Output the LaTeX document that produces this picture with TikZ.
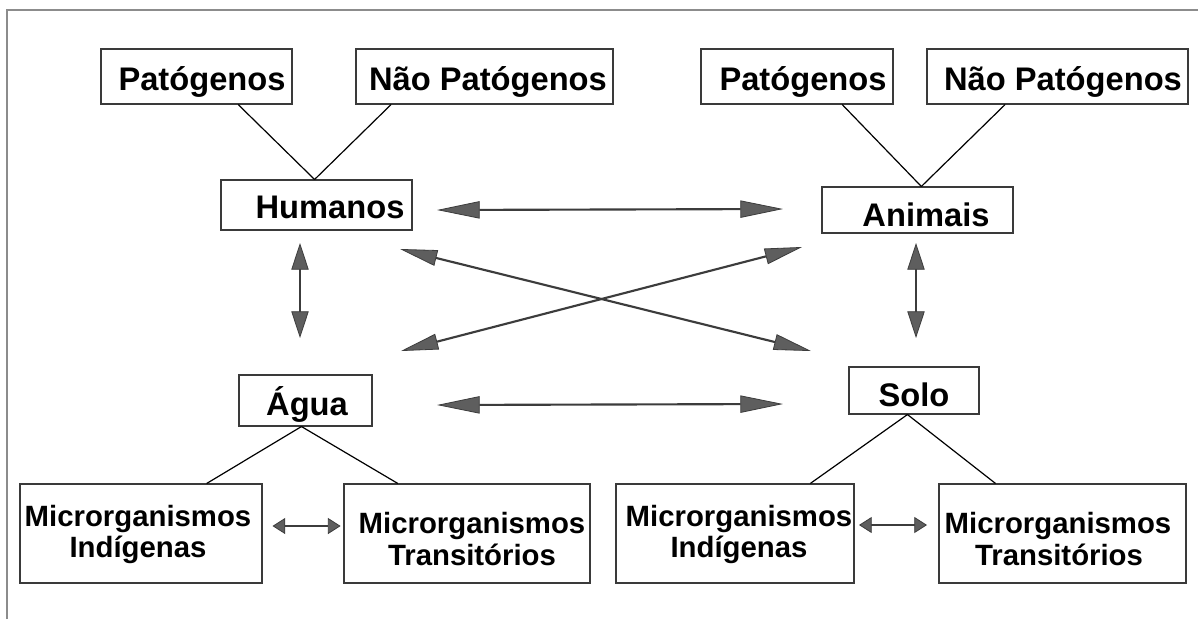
\documentclass[tikz,border=0pt]{standalone}
\usepackage{fontspec}
\setmainfont{Liberation Sans}
\usetikzlibrary{arrows.meta,fit,calc}
\definecolor{framegray}{HTML}{8C8C8C}
\definecolor{boxline}{HTML}{3A3A3A}
\definecolor{shaft}{HTML}{3C3C3C}
\definecolor{headfill}{HTML}{5E5E5E}
\begin{document}
\begin{tikzpicture}[x=0.75pt,y=-0.75pt,
  box/.style={draw=boxline,line width=0.8pt,inner sep=0pt},
  lbl/.style={anchor=base,inner sep=0pt,font=\fontsize{24.5}{28}\selectfont\bfseries},
  mlbl/.style={anchor=base,inner sep=0pt,font=\fontsize{22}{26}\selectfont\bfseries},
  link/.style={draw=black,line width=0.9pt},
  dbl/.style={draw=shaft,line width=1.6pt},
  bighead/.style={{Triangle[length=32pt,width=13pt,fill=headfill,line width=0.6pt]}-{Triangle[length=32pt,width=13pt,fill=headfill,line width=0.6pt]}},
  vhead/.style={{Triangle[length=20pt,width=13pt,fill=headfill,line width=0.6pt]}-{Triangle[length=20pt,width=13pt,fill=headfill,line width=0.6pt]}},
  dhead/.style={{Triangle[length=28pt,width=12pt,fill=headfill,line width=0.6pt]}-{Triangle[length=28pt,width=12pt,fill=headfill,line width=0.6pt]}},
  shead/.style={{Triangle[length=9.5pt,width=12pt,fill=headfill,line width=0.6pt]}-{Triangle[length=9.5pt,width=12pt,fill=headfill,line width=0.6pt]}},
]
\useasboundingbox (0,0) rectangle (1198,619);
\fill[white] (0,0) rectangle (1198,619);
% outer frame
\coordinate (fbl) at (7,619);
\coordinate (ftl) at (7,10);
\coordinate (ftr) at (1198,10);
\draw[framegray,line width=1.3pt] (fbl) -- (ftl) -- (ftr);

% boxes
\node[box,fit={(101,49) (292,104)}] (patL) {};
\node[box,fit={(356,49) (613,104)}] (naoL) {};
\node[box,fit={(221,180) (412,230)}] (hum) {};
\node[box,fit={(701,49) (893,104)}] (patR) {};
\node[box,fit={(927,49) (1188,104)}] (naoR) {};
\node[box,fit={(822,187) (1013,233)}] (ani) {};
\node[box,fit={(239,375) (372,426)}] (agua) {};
\node[box,fit={(849,367) (979,414)}] (solo) {};
\node[box,fit={(20,484) (262,583)}] (mL1) {};
\node[box,fit={(344,484) (590,583)}] (mL2) {};
\node[box,fit={(616,484) (854,583)}] (mR1) {};
\node[box,fit={(939,484) (1186,583)}] (mR2) {};

% labels
\node[lbl] (tpatL) at (202,90) {Patógenos};
\node[lbl] (tnaoL) at (488,90) {Não Patógenos};
\node[lbl] (thum) at (330,218) {Humanos};
\node[lbl] (tpatR) at (803,90) {Patógenos};
\node[lbl] (tnaoR) at (1063,90) {Não Patógenos};
\node[lbl] (tani) at (926,226) {Animais};
\node[lbl] (tagua) at (307,415) {Água};
\node[lbl] (tsolo) at (914,406) {Solo};
\node[mlbl] (tmL1a) at (138,526) {Microrganismos};
\node[mlbl] (tmL1b) at (138,557) {Indígenas};
\node[mlbl] (tmL2a) at (472,533) {Microrganismos};
\node[mlbl] (tmL2b) at (472,565) {Transitórios};
\node[mlbl] (tmR1a) at (739,526) {Microrganismos};
\node[mlbl] (tmR1b) at (739,557) {Indígenas};
\node[mlbl] (tmR2a) at (1058,533) {Microrganismos};
\node[mlbl] (tmR2b) at (1059,565) {Transitórios};

% tree links
\draw[link] ($(patL.south west)!0.717!(patL.south east)$) -- ($(hum.north west)!0.49!(hum.north east)$);
\draw[link] ($(naoL.south west)!0.138!(naoL.south east)$) -- ($(hum.north west)!0.49!(hum.north east)$);
\draw[link] ($(patR.south west)!0.734!(patR.south east)$) -- ($(ani.north west)!0.52!(ani.north east)$);
\draw[link] ($(naoR.south west)!0.30!(naoR.south east)$) -- ($(ani.north west)!0.52!(ani.north east)$);
\draw[link] ($(agua.south west)!0.47!(agua.south east)$) -- ($(mL1.north west)!0.77!(mL1.north east)$);
\draw[link] ($(agua.south west)!0.47!(agua.south east)$) -- ($(mL2.north west)!0.22!(mL2.north east)$);
\draw[link] ($(solo.south west)!0.45!(solo.south east)$) -- ($(mR1.north west)!0.815!(mR1.north east)$);
\draw[link] ($(solo.south west)!0.45!(solo.south east)$) -- ($(mR2.north west)!0.23!(mR2.north east)$);

% arrow end points
\coordinate (haL) at (437,210);
\coordinate (haR) at (783,209);
\coordinate (hwT) at (300,243);
\coordinate (hwB) at (300,338);
\coordinate (asT) at (916,243);
\coordinate (asB) at (916,338);
\coordinate (d1a) at (400,249);
\coordinate (d1b) at (811,351);
\coordinate (d2a) at (401,351);
\coordinate (d2b) at (802,247);
\coordinate (wsL) at (437,405);
\coordinate (wsR) at (783,404);
\coordinate (mLa) at (272.5,526);
\coordinate (mLb) at (340.6,526);
\coordinate (mRa) at (859,525);
\coordinate (mRb) at (927,525);

\draw[dbl,bighead] (haL) -- (haR);
\draw[dbl,bighead] (wsL) -- (wsR);
\draw[dbl,vhead] (hwT) -- (hwB);
\draw[dbl,vhead] (asT) -- (asB);
\draw[dbl,dhead] (d1a) -- (d1b);
\draw[dbl,dhead] (d2a) -- (d2b);
\draw[dbl,shead] (mLa) -- (mLb);
\draw[dbl,shead] (mRa) -- (mRb);
\end{tikzpicture}
\end{document}
